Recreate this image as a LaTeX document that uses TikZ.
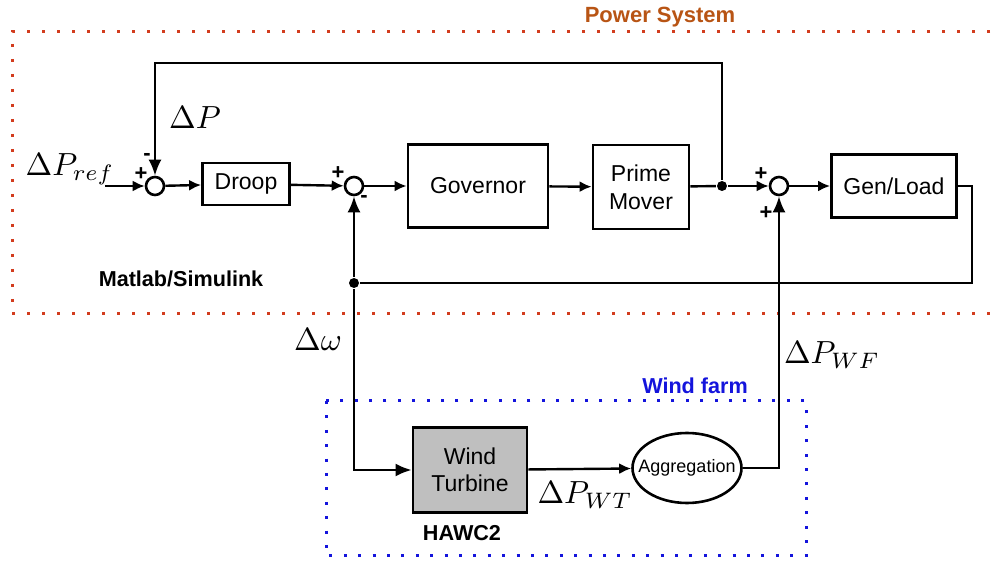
\documentclass[tikz,border=0pt]{standalone}
\usepackage{fontspec}
\setmainfont{Liberation Sans}
\usetikzlibrary{arrows.meta,calc,shapes,positioning}

\definecolor{psys}{RGB}{184,84,20}
\definecolor{dotred}{RGB}{210,60,30}
\definecolor{wfarm}{RGB}{20,20,220}

\begin{document}
\begin{tikzpicture}[x=0.5pt,y=-0.5pt,>={Latex[length=6pt,width=5.5pt]},line width=1.2pt,
   every node/.style={font=\fontsize{11.5}{14}\selectfont},
   block/.style={draw,rectangle,line width=1.4pt,inner sep=0pt,align=center},
   sum/.style={draw,circle,line width=1.3pt,minimum size=9pt,inner sep=0pt},
   dot/.style={fill,circle,minimum size=5pt,inner sep=0pt},
   sgn/.style={font=\fontsize{11}{12}\bfseries\selectfont,inner sep=0pt},
   mathlbl/.style={font=\fontsize{10}{12}\selectfont,scale=1.6},
   title/.style={font=\fontsize{10.8}{13}\bfseries\selectfont},
   big/.style={-{Latex[length=8pt,width=6.5pt]}},
   reddots/.style={dotred,line width=1.5pt,dash pattern=on 1.5pt off 6pt},
   bluedots/.style={wfarm,line width=1.5pt,dash pattern=on 1.5pt off 5.7pt}]
   \useasboundingbox (0,0) rectangle (993,567);
   \draw[reddots] (990,32) -- (12,32) -- (12,314) -- (993,314);
   \draw[bluedots] (326,401) rectangle (806,556);

   \node[sum] (s_1) at (155,186) {};
   \node[block,minimum width=43.5pt,minimum height=21pt] (droop) at (246,184) {Droop};
   \node[sum] (s_2) at (354,186) {};
   \node[block,minimum width=70pt,minimum height=41.5pt] (gov) at (478,186) {Governor};
   \node[block,minimum width=48pt,minimum height=42pt] (pm) at (641,187) {Prime\\Mover};
   \node[dot] (tap) at (722,186) {};
   \node[sum] (s_3) at (779,186) {};
   \node[block,minimum width=62.5pt,minimum height=31.5pt] (gen) at (894,186) {Gen/Load};
   \node[dot] (fb) at (354,283) {};
   \node[block,fill=gray!50,minimum width=57pt,minimum height=42.5pt,
         font=\fontsize{11.5}{13.5}\selectfont] (wt) at (470,470) {Wind\\Turbine};
   \node[draw,ellipse,line width=1.3pt,minimum width=54pt,minimum height=35pt,inner xsep=-5pt,
         inner ysep=0pt,font=\fontsize{9}{10}\selectfont] (agg) at (687,468) {Aggregation};

   \coordinate (in) at (105,186);
   \coordinate (top) at (155,63);
   \coordinate (rgt) at (972,283);

   \draw[->] (in) -- (s_1);
   \draw[->] (s_1) -- (droop);
   \draw[->] (droop) -- (s_2);
   \draw[->] (s_2) -- (gov);
   \draw[->] (gov) -- (pm);
   \draw (pm) -- (tap);
   \draw[->] (tap) -- (s_3);
   \draw[->] (s_3) -- (gen);
   \draw[big] (tap) |- (top) -- (s_1);
   \draw (gen) -| (rgt) -- (fb);
   \draw[big] (fb) -- (s_2);
   \draw[big] (fb) |- (wt);
   \draw[->] (wt) -- (agg);
   \draw[big] (agg) -| (s_3);

   \node[mathlbl] at (70,169) {$\Delta P_{ref}$};
   \node[mathlbl] at (195,118) {$\Delta P$};
   \node[mathlbl] at (318,340) {$\Delta\omega$};
   \node[mathlbl] at (832,355) {$\Delta P_{WF}$};
   \node[mathlbl] at (585,495) {$\Delta P_{WT}$};

   \node[sgn] at (141,174) {+};
   \node[sgn] at (147,157) {-};
   \node[sgn] at (338,173) {+};
   \node[sgn] at (364,199) {-};
   \node[sgn] at (761,174) {+};
   \node[sgn] at (766,213) {+};

   \node[title] at (181,279) {Matlab/Simulink};
   \node[title,text=psys,font=\fontsize{11}{13}\bfseries\selectfont] at (660,17) {Power System};
   \node[title,text=wfarm] at (695,386) {Wind farm};
   \node[title] at (462,533) {HAWC2};
\end{tikzpicture}
\end{document}
